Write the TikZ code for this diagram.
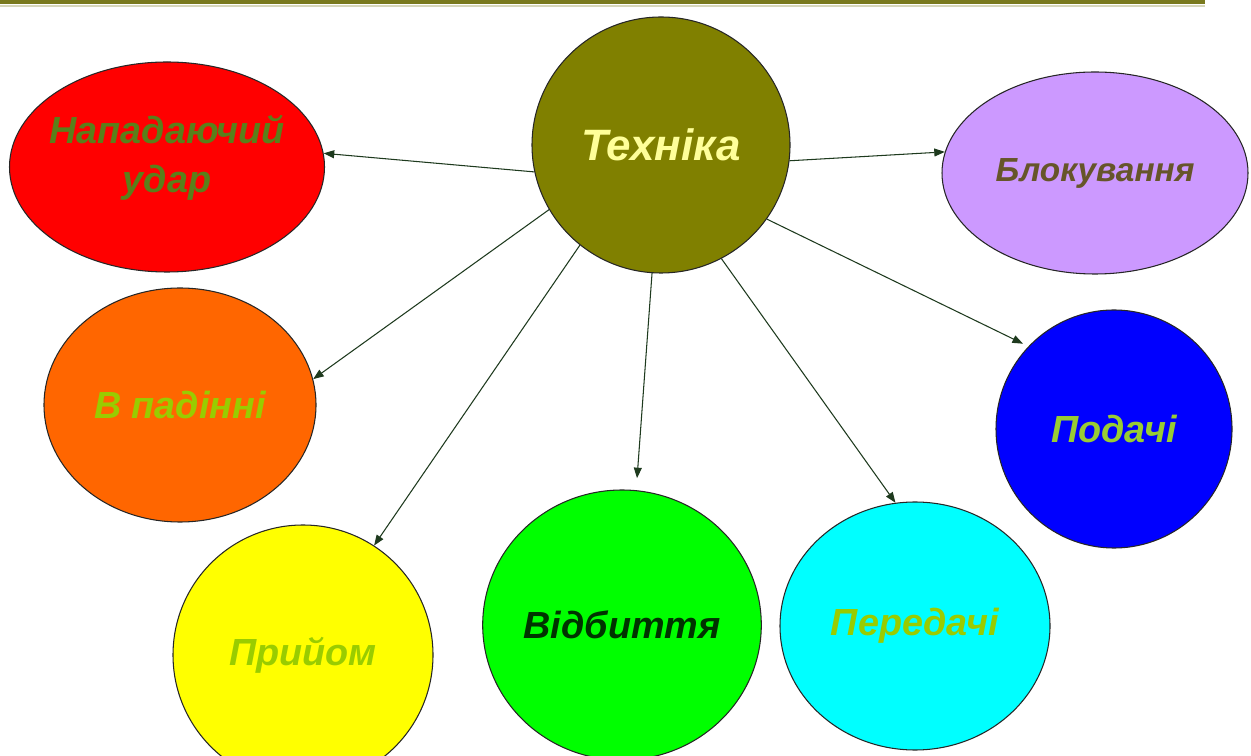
\documentclass[tikz,border=0pt]{standalone}
\usepackage{fontspec}
\setmainfont{Liberation Sans}
\usetikzlibrary{shapes.geometric,arrows.meta}
\definecolor{olv}{HTML}{808000}
\definecolor{topline}{HTML}{7A7A1E}
\definecolor{arrowc}{HTML}{1E3A1E}
\definecolor{napt}{HTML}{5A7F1A}
\definecolor{blokf}{HTML}{CC99FF}
\definecolor{blokt}{HTML}{66552A}
\definecolor{padf}{HTML}{FF6600}
\definecolor{ygreen}{HTML}{99CC00}
\definecolor{podt}{HTML}{99CC33}
\definecolor{vidt}{HTML}{003300}
\definecolor{techt}{HTML}{FFFF99}
\definecolor{redf}{HTML}{FF0000}
\definecolor{yelf}{HTML}{FFFF00}
\definecolor{grnf}{HTML}{00FF00}
\definecolor{cyaf}{HTML}{00FFFF}
\definecolor{bluf}{HTML}{0000FF}
\tikzset{
  blob/.style={ellipse, draw=black!85, line width=0.6pt, inner sep=0pt},
  lbl/.style={font=\bfseries\itshape\fontsize{21.5}{28}\selectfont, align=center},
  arr/.style={draw=arrowc, line width=0.6pt, -{Triangle[length=6pt,width=4.5pt]}}
}
\begin{document}
\begin{tikzpicture}[x=0.02cm,y=-0.02cm]
\useasboundingbox (0,0) rectangle (1251,756);
\clip (0,0) rectangle (1251,756);
\fill[white] (0,0) rectangle (1251,756);
\draw[topline, line width=2.4pt] (0,2) -- (1205,2);
\draw[topline!30, line width=0.6pt] (0,6) -- (1205,6);

\node[blob, fill=olv, minimum width=258*0.02cm, minimum height=256*0.02cm,
  lbl, font=\bfseries\itshape\fontsize{25}{30}\selectfont, text=techt] (tech) at (661,145) {Техніка};
\node[blob, fill=redf, minimum width=315*0.02cm, minimum height=210*0.02cm] (nap) at (167,167) {};
\node[lbl, text=napt] (naptxt) at (167,158) {Нападаючий\\удар};
\node[blob, fill=blokf, minimum width=306*0.02cm, minimum height=202*0.02cm,
  lbl, font=\bfseries\itshape\fontsize{19}{24}\selectfont, text=blokt] (blok) at (1095,173) {Блокування};
\node[blob, fill=padf, minimum width=272*0.02cm, minimum height=234*0.02cm,
  lbl, text=ygreen] (pad) at (180,405) {В падінні};
\node[blob, fill=yelf, minimum width=260*0.02cm, minimum height=260*0.02cm,
  lbl, text=ygreen] (pryi) at (303,655) {Прийом};
\node[blob, fill=grnf, minimum width=270*0.02cm, minimum height=270*0.02cm,
  lbl, text=vidt] (vidb) at (622,625) {Відбиття};
\node[blob, fill=cyaf, minimum width=270*0.02cm, minimum height=248*0.02cm,
  lbl, text=ygreen] (pered) at (915,626) {Передачі};
\node[blob, fill=bluf, minimum width=236*0.02cm, minimum height=238*0.02cm,
  lbl, text=podt] (pod) at (1114,429) {Подачі};

\draw[arr] (tech.192) -- (nap.5);
\draw[arr] (tech.-7) -- (blok.172);
\draw[arr] (tech.210) -- (pad.11);
\draw[arr] (tech.231) -- (pryi.57);
\draw[arr, shorten >=0.24cm] (tech.266) -- (vidb.84);
\draw[arr] (tech.-62) -- (pered.99);
\draw[arr, shorten >=0.12cm] (tech.-35) -- (pod.136);
\end{tikzpicture}
\end{document}
